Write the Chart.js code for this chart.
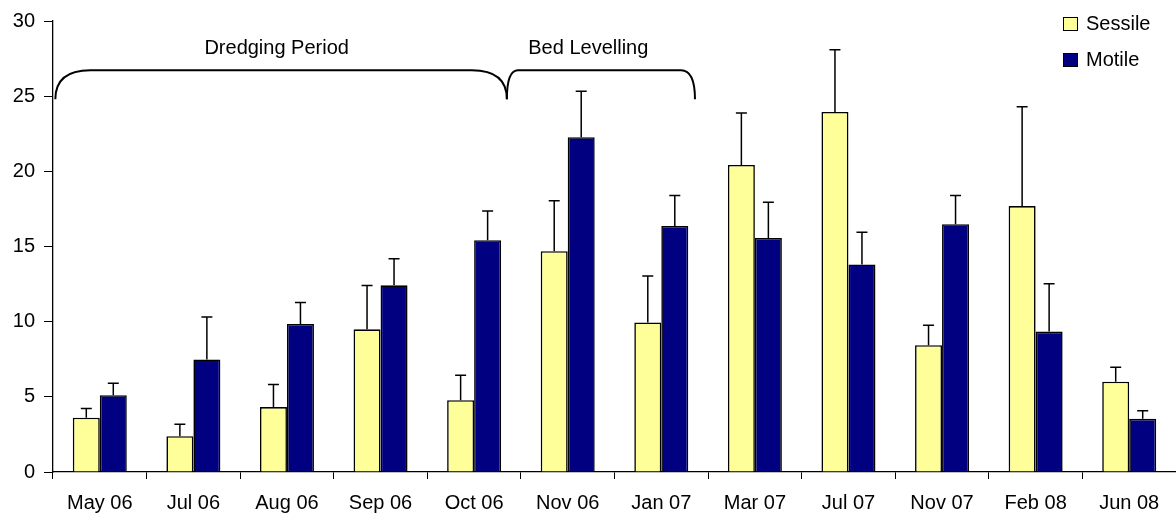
<!DOCTYPE html>
<html>
<head>
<meta charset="utf-8">
<script src="https://cdn.jsdelivr.net/npm/chart.js@4.4.1/dist/chart.umd.min.js"></script>
<style>
  html, body { margin: 0; padding: 0; background: #ffffff; }
  #wrap { width: 1176px; height: 515px; position: relative; }
</style>
</head>
<body>
<div id="wrap"><canvas id="chart" width="1176" height="515"></canvas></div>
<script>
// Sampling dates
const categories = ['May 06', 'Jul 06', 'Aug 06', 'Sep 06', 'Oct 06', 'Nov 06',
                    'Jan 07', 'Mar 07', 'Jul 07', 'Nov 07', 'Feb 08', 'Jun 08'];

// Mean counts per sample
const sessileMean = [3.61, 2.38, 4.32, 9.49, 4.78, 14.69, 9.95, 20.42, 23.95, 8.43, 17.69, 6.01];
const motileMean  = [5.11, 7.49, 9.85, 12.42, 15.42, 22.27, 16.37, 15.57, 13.81, 16.48, 9.34, 3.54];

// Standard errors (upper whisker only)
const sessileErr = [0.62, 0.79, 1.50, 2.91, 1.65, 3.35, 3.09, 3.46, 4.14, 1.33, 6.61, 0.95];
const motileErr  = [0.79, 2.82, 1.43, 1.76, 1.94, 3.06, 2.02, 2.38, 2.14, 1.91, 3.19, 0.53];

// Y axis ticks
const yTicks = [0, 5, 10, 15, 20, 25, 30];

// Work periods marked with braces (category index span)
const periodLabels = ['Dredging Period', 'Bed Levelling'];
const periodStart  = [-0.475, 4.35];
const periodEnd    = [4.35, 6.36];

const FONT = '"Liberation Sans", Arial, sans-serif';

const errorBars = {
  id: 'errorBars',
  afterDatasetsDraw(chart) {
    const { ctx, scales: { y } } = chart;
    ctx.save();
    ctx.strokeStyle = '#000000';
    ctx.lineWidth = 1.5;
    chart.data.datasets.forEach((ds, di) => {
      const meta = chart.getDatasetMeta(di);
      meta.data.forEach((bar, i) => {
        const top = y.getPixelForValue(ds.data[i] + ds.errors[i]);
        ctx.beginPath();
        ctx.moveTo(bar.x, bar.y);
        ctx.lineTo(bar.x, top);
        ctx.moveTo(bar.x - 5.5, top);
        ctx.lineTo(bar.x + 5.5, top);
        ctx.stroke();
      });
    });
    ctx.restore();
  }
};

const braces = {
  id: 'braces',
  afterDraw(chart) {
    const { ctx, scales: { x, y } } = chart;
    const arcs = [[35, 35], [11, 14]];
    const yLow = y.getPixelForValue(24.8);
    const yHigh = y.getPixelForValue(26.73);
    const yText = y.getPixelForValue(28.2);
    ctx.save();
    ctx.strokeStyle = '#000000';
    ctx.lineWidth = 2;
    ctx.fillStyle = '#000000';
    ctx.font = '20px ' + FONT;
    ctx.textAlign = 'center';
    ctx.textBaseline = 'middle';
    periodLabels.forEach((label, i) => {
      const x0 = x.getPixelForValue(periodStart[i]);
      const x1 = x.getPixelForValue(periodEnd[i]);
      const [a0, a1] = arcs[i];
      ctx.beginPath();
      ctx.moveTo(x0, yLow);
      ctx.quadraticCurveTo(x0, yHigh, x0 + a0, yHigh);
      ctx.lineTo(x1 - a1, yHigh);
      ctx.quadraticCurveTo(x1, yHigh, x1, yLow);
      ctx.stroke();
      const mid = [1.89, 5.22][i];
      ctx.fillText(label, x.getPixelForValue(mid), yText);
    });
    ctx.restore();
  }
};

const sideLegend = {
  id: 'sideLegend',
  afterDraw(chart) {
    const { ctx } = chart;
    ctx.save();
    ctx.font = '20px ' + FONT;
    ctx.textBaseline = 'middle';
    ctx.textAlign = 'left';
    chart.data.datasets.forEach((ds, i) => {
      const cy = 24 + i * 36;
      ctx.fillStyle = ds.backgroundColor;
      ctx.fillRect(1064, cy - 6, 13, 12);
      ctx.strokeStyle = '#000000';
      ctx.lineWidth = 1;
      ctx.strokeRect(1063.5, cy - 6.5, 14, 13);
      ctx.fillStyle = '#000000';
      ctx.fillText(ds.label, 1086, cy);
    });
    ctx.restore();
  }
};

new Chart(document.getElementById('chart'), {
  type: 'bar',
  data: {
    labels: categories,
    datasets: [
      { label: 'Sessile', data: sessileMean, errors: sessileErr,
        backgroundColor: '#FFFF99', borderColor: '#000000', borderWidth: 1.6 },
      { label: 'Motile', data: motileMean, errors: motileErr,
        backgroundColor: '#000080', borderColor: '#000000', borderWidth: 1.6 }
    ]
  },
  options: {
    responsive: false,
    animation: false,
    devicePixelRatio: 1,
    layout: { padding: { top: 18, right: 0, bottom: 0, left: 0 } },
    datasets: { bar: { categoryPercentage: 0.577, barPercentage: 1 } },
    plugins: { legend: { display: false }, tooltip: { enabled: false } },
    scales: {
      x: {
        grid: { display: true, drawOnChartArea: false, offset: true,
                color: '#000000', tickLength: 7, lineWidth: 1 },
        border: { color: '#000000', width: 1.3 },
        ticks: { color: '#000000', font: { family: FONT, size: 20 },
                 padding: 12, maxRotation: 0, autoSkip: false },
        afterFit(scale) { scale.height = 43; }
      },
      y: {
        min: 0, max: 30,
        afterBuildTicks(scale) { scale.ticks = yTicks.map(v => ({ value: v })); },
        grid: { display: true, drawOnChartArea: false, color: '#000000',
                tickLength: 9, lineWidth: 1 },
        border: { color: '#000000', width: 1.3 },
        ticks: { color: '#000000', font: { family: FONT, size: 20 }, padding: 9 },
        afterFit(scale) { scale.width = 53; }
      }
    }
  },
  plugins: [errorBars, braces, sideLegend]
});
</script>
</body>
</html>
